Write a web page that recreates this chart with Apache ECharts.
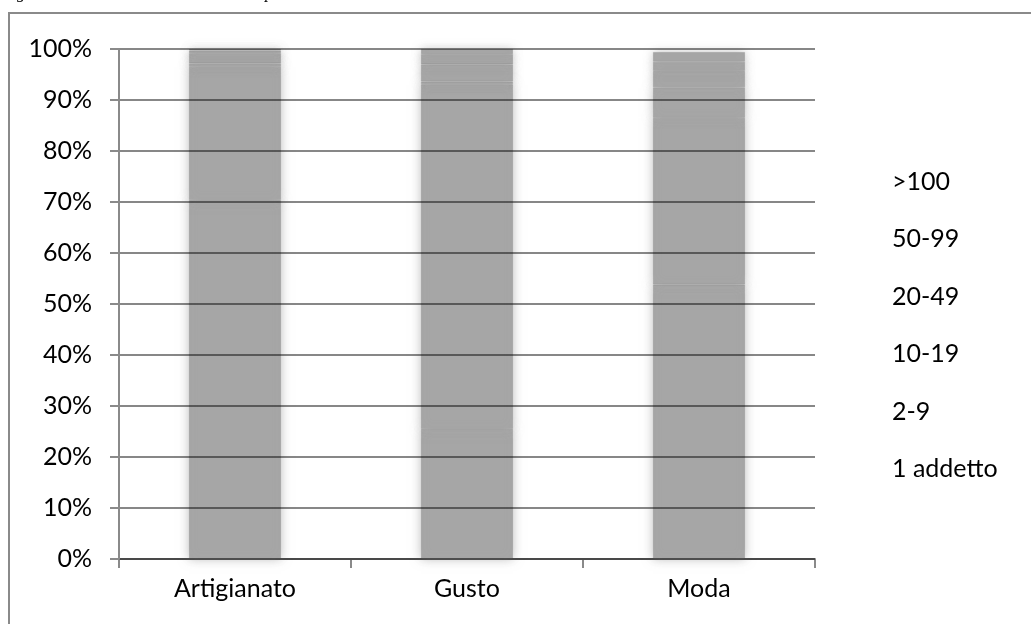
<!DOCTYPE html>
<html>
<head>
<meta charset="utf-8">
<script src="https://cdn.jsdelivr.net/npm/echarts@6/dist/echarts.min.js"></script>
<style>
  html, body { margin: 0; padding: 0; background: #ffffff; }
  #chart { width: 1031px; height: 624px; }
</style>
</head>
<body>
<div id="chart"></div>
<script>
// Sectors shown on the x axis
const categories = ['Artigianato', 'Gusto', 'Moda'];

// Size classes (number of employees), stacked from the bottom up
const sizeClasses = ['1 addetto', '2-9', '10-19', '20-49', '50-99', '>100'];

// Share of firms (%) in each size class, per sector
const share1 = [70.4, 25.5, 53.8];
const share2to9 = [26.1, 67.6, 32.7];
const share10to19 = [0.7, 0.5, 6.0];
const share20to49 = [2.0, 3.4, 3.2];
const share50to99 = [0.5, 2.0, 1.8];
const shareOver100 = [0.3, 1.0, 1.9];

// Y axis ticks
const yTicks = [0, 10, 20, 30, 40, 50, 60, 70, 80, 90, 100];

const seriesValues = [share1, share2to9, share10to19, share20to49, share50to99, shareOver100];

const FONT = 'Lato';
const FONT_SIZE = 25;
const BAR_GRAY = '#a6a6a6';

const chart = echarts.init(document.getElementById('chart'), null, { renderer: 'canvas' });

const series = sizeClasses.map((name, i) => ({
  name: name,
  type: 'bar',
  stack: 'total',
  barWidth: 92,
  data: seriesValues[i],
  itemStyle: {
    color: BAR_GRAY,
    borderColor: 'rgba(120,120,120,0.35)',
    borderWidth: 0.8,
    shadowBlur: 10,
    shadowColor: 'rgba(166,166,166,0.7)'
  },
  emphasis: { disabled: true }
}));

chart.setOption({
  animation: false,
  backgroundColor: '#ffffff',
  graphic: [
    {
      type: 'rect',
      shape: { x: 9, y: 13, width: 1200, height: 800 },
      style: { fill: 'none', stroke: '#8a8a8a', lineWidth: 2 },
      silent: true
    },
    {
      type: 'text',
      left: 2,
      top: -15,
      style: {
        text: 'Figura 3: Classi dimensionali delle imprese della cultura valutate',
        font: 'italic 17px "Liberation Serif"',
        fill: '#000000'
      },
      silent: true
    }
  ],
  grid: { left: 119, right: 216, top: 49, bottom: 65 },
  legend: {
    data: sizeClasses.slice().reverse().map(n => ({ name: n, icon: 'none' })),
    orient: 'vertical',
    left: 887,
    top: 169,
    padding: 0,
    itemWidth: 0,
    itemHeight: 14,
    itemGap: 32.5,
    selectedMode: false,
    itemStyle: { opacity: 0 },
    textStyle: { fontFamily: FONT, fontSize: FONT_SIZE, color: '#000000', lineHeight: 25 }
  },
  xAxis: {
    type: 'category',
    data: categories,
    axisLine: { lineStyle: { color: '#8a8a8a', width: 2 } },
    axisTick: { show: true, length: 9, lineStyle: { color: '#8a8a8a', width: 2 } },
    axisLabel: { fontFamily: FONT, fontSize: FONT_SIZE, color: '#000000', margin: 17 },
    splitLine: { show: false }
  },
  yAxis: {
    type: 'value',
    min: yTicks[0],
    max: yTicks[yTicks.length - 1],
    interval: yTicks[1] - yTicks[0],
    z: 5,
    axisLine: { show: true, lineStyle: { color: '#8a8a8a', width: 2 } },
    axisTick: { show: true, length: 9, lineStyle: { color: '#8a8a8a', width: 2 } },
    axisLabel: {
      fontFamily: FONT, fontSize: FONT_SIZE, color: '#000000', margin: 27,
      formatter: v => v + '%'
    },
    splitLine: { show: true, lineStyle: { color: 'rgba(0,0,0,0.47)', width: 2 } }
  },
  series: series
});
</script>
</body>
</html>
